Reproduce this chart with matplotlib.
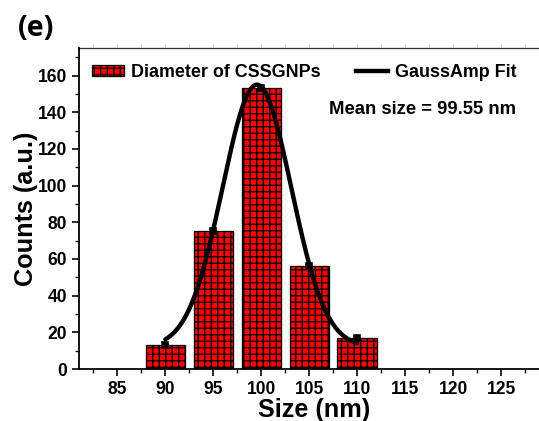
import numpy as np
import matplotlib
matplotlib.use("Agg")
import matplotlib.pyplot as plt
from matplotlib.patches import Patch
from matplotlib.lines import Line2D
from matplotlib.ticker import MultipleLocator

plt.rcParams['font.family'] = ['Liberation Sans', 'DejaVu Sans']
plt.rcParams['font.weight'] = 'bold'
plt.rcParams['hatch.linewidth'] = 0.8

# --------------------- 数据 ---------------------
sizes = [90, 95, 100, 105, 110]          # nm
counts = [13, 75, 153, 56, 17]
bar_width = 4.1

# GaussAmp 拟合参数
fit_xc = 99.55
fit_amp = 143
fit_w = 3.59
fit_y0 = 12

x_ticks = [85, 90, 95, 100, 105, 110, 115, 120, 125]
y_ticks = [0, 20, 40, 60, 80, 100, 120, 140, 160]

DPI = 117
W, H = 539, 421

fig = plt.figure(figsize=(W / DPI, H / DPI), dpi=DPI)
ax = fig.add_axes([79 / W, 52 / H, 470 / W, 321 / H])

ax.bar(sizes, counts, width=bar_width, color='#ff0000', edgecolor='black',
       hatch='+++', linewidth=0.8, zorder=2)

xf = np.linspace(sizes[0], sizes[-1], 300)
yf = fit_y0 + fit_amp * np.exp(-(xf - fit_xc) ** 2 / (2 * fit_w ** 2))
ax.plot(xf, yf, color='black', lw=2.7, zorder=3, solid_capstyle='round')
ax.plot(sizes, counts, 's', color='black', ms=4, zorder=4)

ax.set_xlim(81, 130)
ax.set_ylim(0, 175)
ax.set_xticks(x_ticks)
ax.set_yticks(y_ticks)
ax.xaxis.set_minor_locator(MultipleLocator(2.5))
ax.yaxis.set_minor_locator(MultipleLocator(10))
ax.tick_params(axis='both', which='major', direction='out', length=4.5, width=1.0,
               labelsize=10.8, pad=3)
ax.tick_params(axis='both', which='minor', direction='out', length=2.5, width=0.8)
for lab in ax.get_xticklabels() + ax.get_yticklabels():
    lab.set_fontweight('bold')

# 顶部浅灰色刻度
top = ax.secondary_xaxis('top')
top.set_xticks(x_ticks)
top.xaxis.set_minor_locator(MultipleLocator(2.5))
top.tick_params(which='both', direction='out', color='#c8c8c8', labeltop=False,
                length=2.5, width=0.5)
top.spines['top'].set_linewidth(0.8)
top.spines['top'].set_color('#333333')

for s in ['left', 'bottom']:
    ax.spines[s].set_linewidth(1.1)
ax.spines['top'].set_visible(False)
ax.spines['right'].set_visible(False)

ax.set_xlabel('Size (nm)', fontsize=15.5, fontweight='bold', labelpad=0)
ax.set_ylabel('Counts (a.u.)', fontsize=15.5, fontweight='bold', labelpad=0)

handles = [Patch(facecolor='#ff0000', edgecolor='black', hatch='+++', linewidth=0.8),
           Line2D([], [], color='black', lw=2.7)]
ax.legend(handles, ['Diameter of CSSGNPs', 'GaussAmp Fit'], ncol=2, frameon=False,
          loc='upper left', bbox_to_anchor=(0.027, 0.95), borderpad=0, borderaxespad=0,
          handlelength=1.78, handleheight=0.6, handletextpad=0.4, columnspacing=2.0,
          prop={'size': 11, 'weight': 'bold'})

ax.text(116.8, 141.5, 'Mean size = 99.55 nm', ha='center', va='center',
        fontsize=11.4, fontweight='bold')

fig.text(18 / W, 1 - 29 / H, '(e)', ha='left', va='center', fontsize=17.5,
         fontweight='bold', family=['Open Sans', 'DejaVu Sans'])

fig.savefig('out.png', dpi=DPI)
